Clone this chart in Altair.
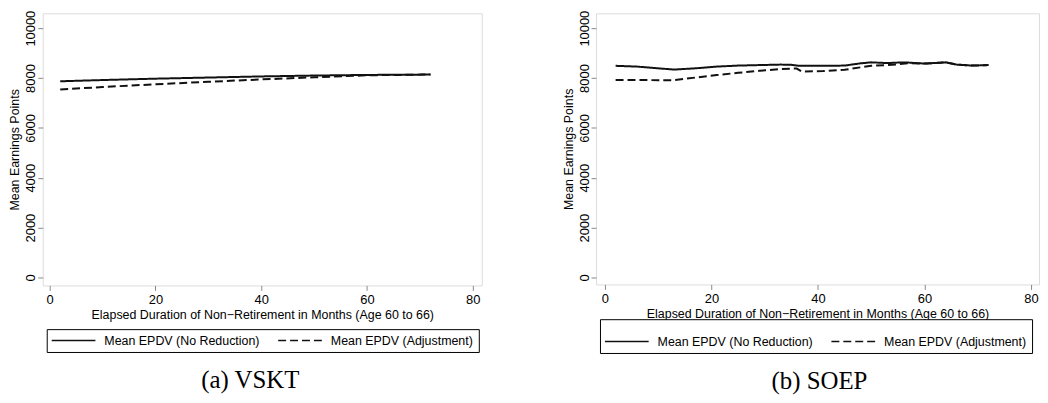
import altair as alt
import pandas as pd

SERIES = ["Mean EPDV (No Reduction)", "Mean EPDV (Adjustment)"]

# (a) VSKT
vskt_months = [2, 10, 20, 30, 40, 50, 60, 72]
vskt_noreduction = [7870, 7920, 7975, 8020, 8065, 8100, 8125, 8140]
vskt_adjustment = [7540, 7640, 7750, 7850, 7945, 8030, 8110, 8140]

# (b) SOEP
soep_months = [2, 6, 10, 13, 17, 21, 25, 29, 33, 35, 36, 37, 41, 45, 48, 50,
               53, 55, 57, 60, 64, 66, 69, 72]
soep_noreduction = [8490, 8460, 8390, 8340, 8390, 8460, 8500, 8520, 8540, 8530,
                    8500, 8490, 8490, 8500, 8590, 8630, 8600, 8620, 8620, 8580,
                    8630, 8540, 8500, 8520]
soep_adjustment = [7920, 7920, 7915, 7915, 8020, 8120, 8210, 8290, 8360, 8380,
                   8380, 8260, 8280, 8330, 8430, 8490, 8520, 8550, 8600, 8580,
                   8630, 8540, 8500, 8520]

x_ticks = [0, 20, 40, 60, 80]
y_ticks = [0, 2000, 4000, 6000, 8000, 10000]

X_TITLE = "Elapsed Duration of Non\u2212Retirement in Months (Age 60 to 66)"
Y_TITLE = "Mean Earnings Points"
FONT = "Liberation Sans"


def make_df(months, a, b):
    rows = []
    for m, v in zip(months, a):
        rows.append({"month": m, "value": v, "series": SERIES[0]})
    for m, v in zip(months, b):
        rows.append({"month": m, "value": v, "series": SERIES[1]})
    return pd.DataFrame(rows)


def panel(df, caption, xdom, ydom, w, h, legend_y, dx, legend_title):
    legend_kw = dict(orient="none", legendX=4, legendY=legend_y,
                     direction="horizontal", columns=2,
                     symbolType="M-4,0H4", symbolSize=121,
                     symbolOffset=15.5,
                     symbolStrokeWidth=1.5, symbolStrokeColor="#111111",
                     labelFontSize=12.5, labelFont=FONT,
                     labelColor="black", labelOffset=24.5,
                     labelLimit=400, columnPadding=15, padding=5,
                     strokeColor="black", fillColor="white")
    if legend_title:
        legend_kw.update(title=" ", titleFontSize=8, titlePadding=3)
    else:
        legend_kw.update(title=None)
    return alt.Chart(df).mark_line(strokeWidth=2, color="#111111").encode(
        x=alt.X("month:Q",
                scale=alt.Scale(domain=xdom, nice=False, zero=False),
                axis=alt.Axis(values=x_ticks, format="d", title=X_TITLE,
                              grid=False, domain=False, tickSize=5,
                              labelPadding=3, titlePadding=2, labelFontSize=13,
                              titleFontSize=12.5, titleFontWeight="normal")),
        y=alt.Y("value:Q",
                scale=alt.Scale(domain=ydom, nice=False, zero=False),
                axis=alt.Axis(values=y_ticks, format="d", title=Y_TITLE,
                              grid=False, domain=False, tickSize=5,
                              labelAngle=270, labelAlign="center",
                              labelBaseline="alphabetic", labelPadding=3,
                              titlePadding=3, labelFontSize=13,
                              titleFontSize=12.5, titleFontWeight="normal")),
        strokeDash=alt.StrokeDash(
            "series:N",
            scale=alt.Scale(domain=SERIES, range=[[1, 0], [8, 4]]),
            legend=alt.Legend(**legend_kw)),
        order=alt.Order("series:N", sort="ascending"),
    ).properties(
        width=w, height=h,
        title=alt.TitleParams(caption, orient="bottom", font="Liberation Serif",
                              fontSize=25, fontWeight="normal", color="black",
                              anchor="middle", frame="group", dx=dx, offset=16),
    )


left = panel(make_df(vskt_months, vskt_noreduction, vskt_adjustment),
             "(a) VSKT", [-1.3, 81.7], [-319, 10598], 442, 274, 318, -12, False)
right = panel(make_df(soep_months, soep_noreduction, soep_adjustment),
              "(b) SOEP", [-1.68, 81.5], [-279, 10598], 446, 273, 308, 2, True)

chart = alt.hconcat(left, right, spacing=79).resolve_legend(
    strokeDash="independent"
).resolve_scale(
    strokeDash="independent"
).properties(
    padding={"top": 0, "left": 0, "right": 0, "bottom": 0}
).configure_view(
    stroke="black", strokeWidth=1.2
).configure_axis(
    labelFont=FONT, titleFont=FONT, labelColor="black", titleColor="black",
    tickColor="black", titleFontWeight="normal"
).configure(background="white")

chart.save("out.html", embed_options={"renderer": "svg", "actions": False})
